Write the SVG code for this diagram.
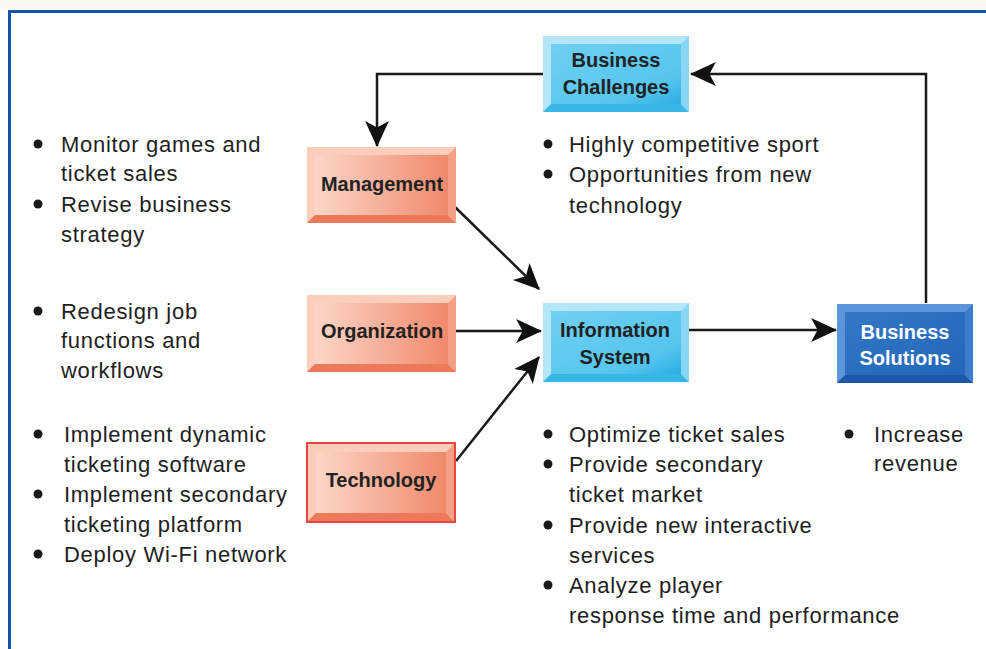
<svg xmlns="http://www.w3.org/2000/svg" width="986" height="649" viewBox="0 0 986 649">
<defs>
<style>
.t{font-family:"Liberation Sans",Arial,sans-serif;font-size:22px;letter-spacing:0.7px;fill:#1e1e1e}
.n{font-family:"Liberation Sans",Arial,sans-serif;font-size:20px;font-weight:bold;fill:#222;text-anchor:middle}
.nw{fill:#fff}
.c{fill:none;stroke:#1a1a1a;stroke-width:2.5;marker-end:url(#ah)}
.b{fill:#1a1a1a}
</style>
<marker id="ah" viewBox="0 0 24 24" refX="23" refY="12" markerWidth="26" markerHeight="26" markerUnits="userSpaceOnUse" orient="auto">
<path d="M0,1 L24,12 L0,23 L6,12 z" fill="#111"/>
</marker>
<linearGradient id="gb" x1="0" y1="0" x2="1" y2="1">
<stop offset="0" stop-color="#6fd0f2"/><stop offset="0.75" stop-color="#55c5ee"/><stop offset="1" stop-color="#2aaee4"/>
</linearGradient>
<linearGradient id="go" x1="0" y1="0" x2="1" y2="0">
<stop offset="0" stop-color="#fcd6c8"/><stop offset="1" stop-color="#f0896b"/>
</linearGradient>
<linearGradient id="gd" x1="0" y1="0" x2="1" y2="1">
<stop offset="0" stop-color="#3479c7"/><stop offset="1" stop-color="#2166b8"/>
</linearGradient>
</defs>
<rect x="0" y="0" width="986" height="9" fill="#fbf8f2"/>
<rect x="0" y="9" width="986" height="640" fill="#fff"/>
<path d="M9.5,649 V11.5 H986" fill="none" stroke="#1454a8" stroke-width="3"/>

<g id="connectors">
<polyline class="c" points="543,74 377,74 377,146"/>
<polyline class="c" points="926,303 926,74 691,74"/>
<line class="c" x1="455" y1="207" x2="539" y2="289"/>
<line class="c" x1="456" y1="331" x2="541" y2="331"/>
<line class="c" x1="456" y1="461" x2="539" y2="357"/>
<line class="c" x1="689" y1="330" x2="836" y2="330"/>
</g>

<g id="business-challenges">
<rect x="543" y="36" width="146" height="76" fill="#b3e6f8"/>
<polygon points="543,112 689,112 681,104 551,104" fill="#3ab6e6"/>
<polygon points="689,36 689,112 681,104 681,44" fill="#86d6f4"/>
<rect x="551" y="44" width="130" height="60" fill="url(#gb)"/>
<text class="n" x="616" y="67">Business</text>
<text class="n" x="616" y="94">Challenges</text>
</g>

<g id="management">
<rect x="307" y="147" width="149" height="76" fill="#fbcdbb"/>
<polygon points="307,223 456,223 448,215 315,215" fill="#ec7a5a"/>
<polygon points="456,147 456,223 448,215 448,155" fill="#f4a085"/>
<rect x="315" y="155" width="133" height="60" fill="url(#go)"/>
<text class="n" x="382" y="191">Management</text>
</g>

<g id="organization">
<rect x="307" y="295" width="149" height="77" fill="#fbcdbb"/>
<polygon points="307,372 456,372 448,364 315,364" fill="#ec7a5a"/>
<polygon points="456,295 456,372 448,364 448,303" fill="#f4a085"/>
<rect x="315" y="303" width="133" height="61" fill="url(#go)"/>
<text class="n" x="382" y="338">Organization</text>
</g>

<g id="technology">
<rect x="307" y="443" width="148" height="79" fill="#fbcdbb" stroke="#e8463a" stroke-width="2"/>
<polygon points="308,521 454,521 446,513 316,513" fill="#ec7a5a"/>
<polygon points="454,444 454,521 446,513 446,452" fill="#f4a085"/>
<rect x="316" y="452" width="130" height="61" fill="url(#go)"/>
<text class="n" x="381" y="487">Technology</text>
</g>

<g id="information-system">
<rect x="543" y="303" width="146" height="79" fill="#b3e6f8"/>
<polygon points="543,382 689,382 681,374 551,374" fill="#3ab6e6"/>
<polygon points="689,303 689,382 681,374 681,311" fill="#86d6f4"/>
<rect x="551" y="311" width="130" height="63" fill="url(#gb)"/>
<text class="n" x="615" y="337">Information</text>
<text class="n" x="615" y="364">System</text>
</g>

<g id="business-solutions">
<rect x="837" y="304" width="136" height="79" fill="#5c95d8"/>
<polygon points="837,383 973,383 965,375 845,375" fill="#1c58a6"/>
<polygon points="973,304 973,383 965,375 965,312" fill="#3d7ccb"/>
<rect x="845" y="312" width="120" height="63" fill="url(#gd)"/>
<text class="n nw" x="905" y="339">Business</text>
<text class="n nw" x="905" y="365">Solutions</text>
</g>

<g id="management-notes">
<circle class="b" cx="38" cy="144" r="4.5"/>
<circle class="b" cx="38" cy="204" r="4.5"/>
<text class="t" x="61" y="152">Monitor games and</text>
<text class="t" x="61" y="181">ticket sales</text>
<text class="t" x="61" y="212">Revise business</text>
<text class="t" x="61" y="242">strategy</text>
</g>

<g id="organization-notes">
<circle class="b" cx="38" cy="311" r="4.5"/>
<text class="t" x="61" y="319">Redesign job</text>
<text class="t" x="61" y="348">functions and</text>
<text class="t" x="61" y="378">workflows</text>
</g>

<g id="technology-notes">
<circle class="b" cx="38" cy="434" r="4.5"/>
<circle class="b" cx="38" cy="494" r="4.5"/>
<circle class="b" cx="38" cy="554" r="4.5"/>
<text class="t" x="64" y="442">Implement dynamic</text>
<text class="t" x="64" y="472">ticketing software</text>
<text class="t" x="64" y="502">Implement secondary</text>
<text class="t" x="64" y="532">ticketing platform</text>
<text class="t" x="64" y="562">Deploy Wi-Fi network</text>
</g>

<g id="challenges-notes">
<circle class="b" cx="548" cy="144" r="4.5"/>
<circle class="b" cx="548" cy="174" r="4.5"/>
<text class="t" x="569" y="152">Highly competitive sport</text>
<text class="t" x="569" y="182">Opportunities from new</text>
<text class="t" x="569" y="213">technology</text>
</g>

<g id="system-notes">
<circle class="b" cx="548" cy="434" r="4.5"/>
<circle class="b" cx="548" cy="464" r="4.5"/>
<circle class="b" cx="548" cy="525" r="4.5"/>
<circle class="b" cx="548" cy="585" r="4.5"/>
<text class="t" x="569" y="442">Optimize ticket sales</text>
<text class="t" x="569" y="472">Provide secondary</text>
<text class="t" x="569" y="502">ticket market</text>
<text class="t" x="569" y="533">Provide new interactive</text>
<text class="t" x="569" y="563">services</text>
<text class="t" x="569" y="593">Analyze player</text>
<text class="t" x="569" y="623">response time and performance</text>
</g>

<g id="solutions-notes">
<circle class="b" cx="849" cy="434" r="4.5"/>
<text class="t" x="874" y="442">Increase</text>
<text class="t" x="874" y="471">revenue</text>
</g>
</svg>
